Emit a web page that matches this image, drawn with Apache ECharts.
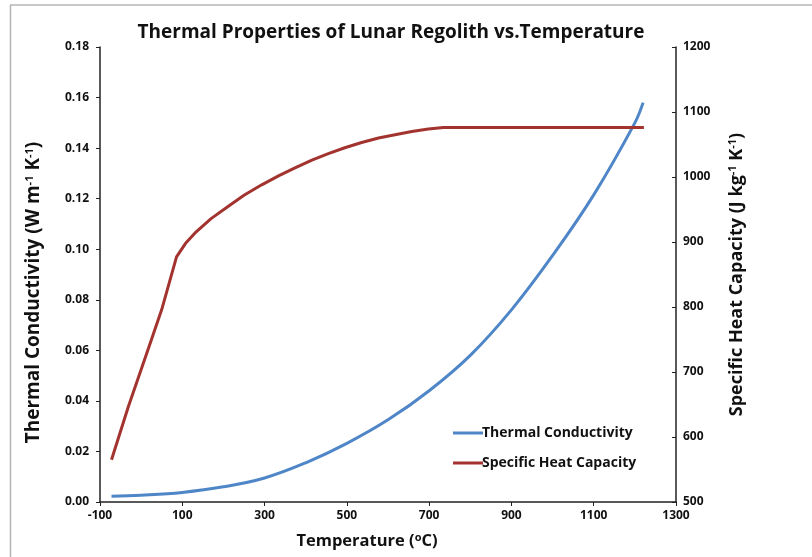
<!DOCTYPE html>
<html>
<head>
<meta charset="utf-8">
<script src="https://cdn.jsdelivr.net/npm/echarts@6/dist/echarts.min.js"></script>
<style>html,body{margin:0;padding:0;background:#fff;}#c{width:812px;height:557px;}</style>
</head>
<body>
<div id="c"></div>
<script>
// Temperature (°C) and values
var condTemps = [-72, 0, 100, 200, 300, 400, 500, 600, 700, 800, 900, 1000, 1100, 1200, 1220];
var condValues = [0.0023, 0.0027, 0.0038, 0.0060, 0.0095, 0.0155, 0.0232, 0.0325, 0.0440, 0.0580, 0.0760, 0.0975, 0.1215, 0.1500, 0.1580];
var heatTemps = [-72, -31, 17, 50, 86, 108, 131, 170, 212, 250, 293, 335, 374, 415, 455, 495, 536, 577, 617, 658, 698, 735, 1222];
var heatValues = [565, 647, 735, 796, 877, 898, 914, 936, 955, 972, 988, 1002, 1014, 1026, 1036, 1045, 1053, 1060, 1065, 1070, 1074, 1076, 1076];
var seriesNames = ['Thermal Conductivity', 'Specific Heat Capacity'];

var FONT = 'Open Sans';
var chart = echarts.init(document.getElementById('c'), null, {renderer: 'canvas'});
var pair = function (xs, ys) { return xs.map(function (x, i) { return [x, ys[i]]; }); };
var supRich = {
  sup: {fontSize: 11, fontWeight: 'bold', fontFamily: FONT, color: '#111', padding: [0, 0, 8, 0]}
};
chart.setOption({
  animation: false,
  backgroundColor: '#fff',
  title: {
    text: 'Thermal Properties of Lunar Regolith vs.Temperature',
    left: 386, top: 18, textAlign: 'center',
    textStyle: {fontFamily: FONT, fontWeight: 'bold', fontSize: 19, color: '#111'}
  },
  graphic: [
    {type: 'line', shape: {x1: 10.5, y1: 5, x2: 10.5, y2: 557}, style: {stroke: '#b4b4b4', lineWidth: 1.5}},
    {type: 'line', shape: {x1: 10, y1: 5, x2: 812, y2: 5}, style: {stroke: '#b4b4b4', lineWidth: 1.5}}
  ],
  legend: {
    orient: 'vertical', left: 448, top: 421, itemGap: 16,
    icon: 'rect', itemWidth: 30, itemHeight: 3,
    data: seriesNames,
    textStyle: {fontFamily: FONT, fontWeight: 'bold', fontSize: 14, color: '#111', padding: [0, 0, 0, -6]}
  },
  grid: {left: 100, right: 136, top: 47, bottom: 55},
  xAxis: {
    type: 'value', min: -100, max: 1300, interval: 200,
    name: 'Temperature ({sup|o}C)', nameLocation: 'middle', nameGap: 30,
    nameTextStyle: {fontFamily: FONT, fontWeight: 'bold', fontSize: 16.5, color: '#111', padding: [0, 42, 0, 0], rich: supRich},
    axisLine: {onZero: false, lineStyle: {color: '#222', width: 1.5}},
    axisTick: {length: 4, lineStyle: {color: '#222'}},
    axisLabel: {fontFamily: FONT, fontWeight: 'bold', fontSize: 12, color: '#111', margin: 8,
      formatter: function (v) { return String(v); }},
    splitLine: {show: false}
  },
  yAxis: [
    {
      type: 'value', min: 0, max: 0.18, interval: 0.02, position: 'left',
      name: 'Thermal Conductivity (W m{sup|-1} K{sup|-1})', nameLocation: 'middle', nameGap: 57,
      nameTextStyle: {fontFamily: FONT, fontWeight: 'bold', fontSize: 19, color: '#111', padding: [0, 36, 0, 0], rich: supRich},
      axisLine: {show: true, onZero: false, lineStyle: {color: '#222', width: 1.5}},
      axisTick: {show: true, length: 4, lineStyle: {color: '#222'}},
      axisLabel: {fontFamily: FONT, fontWeight: 'bold', fontSize: 12, color: '#111', margin: 11,
        formatter: function (v) { return v.toFixed(2); }},
      splitLine: {show: false}
    },
    {
      type: 'value', min: 500, max: 1200, interval: 100, position: 'right',
      name: 'Specific Heat Capacity (J kg{sup|-1} K{sup|-1})', nameLocation: 'middle', nameGap: 51,
      nameTextStyle: {fontFamily: FONT, fontWeight: 'bold', fontSize: 18, color: '#111', rich: supRich},
      axisLine: {show: true, onZero: false, lineStyle: {color: '#222', width: 1.5}},
      axisTick: {show: true, inside: true, length: 4, lineStyle: {color: '#222'}},
      axisLabel: {fontFamily: FONT, fontWeight: 'bold', fontSize: 12, color: '#111', margin: 7,
        formatter: function (v) { return String(v); }},
      splitLine: {show: false}
    }
  ],
  series: [
    {
      name: seriesNames[0], type: 'line', yAxisIndex: 0, smooth: 0.4, showSymbol: false,
      data: pair(condTemps, condValues),
      lineStyle: {color: '#4f86c8', width: 3}, itemStyle: {color: '#4f86c8'}
    },
    {
      name: seriesNames[1], type: 'line', yAxisIndex: 1, smooth: false, showSymbol: false,
      data: pair(heatTemps, heatValues),
      lineStyle: {color: '#a3332f', width: 3, join: 'round'}, itemStyle: {color: '#a3332f'}
    }
  ]
});
</script>
</body>
</html>
